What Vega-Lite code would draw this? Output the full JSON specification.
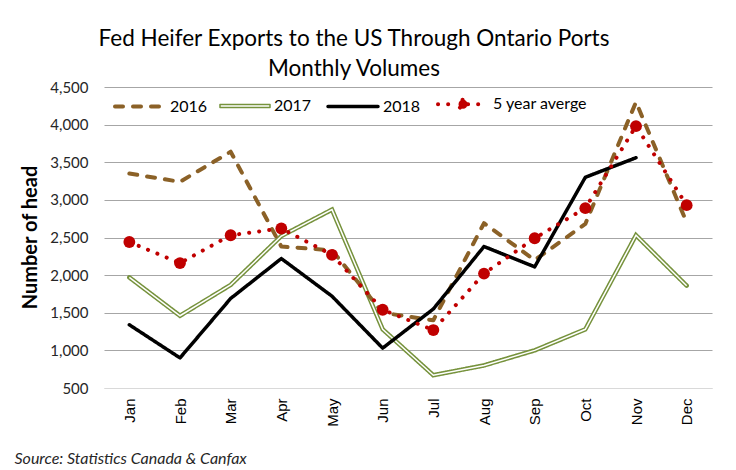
{
  "$schema": "https://vega.github.io/schema/vega-lite/v6.json",
  "width": 608,
  "height": 301,
  "autosize": "none",
  "padding": {"left": 104, "top": 87, "right": 24, "bottom": 82},
  "background": "white",
  "config": {"view": {"stroke": null}, "font": "Lato"},
  "title": {
    "text": ["Fed Heifer Exports to the US Through Ontario Ports", "Monthly Volumes"],
    "font": "Lato",
    "fontSize": 22.5,
    "fontWeight": "normal",
    "color": "#000000",
    "anchor": "middle",
    "frame": "group",
    "dx": -54,
    "lineHeight": 30,
    "offset": -3
  },
  "data": {
    "values": [
      {"month": "Jan", "series": "2016", "value": 3350},
      {"month": "Feb", "series": "2016", "value": 3240},
      {"month": "Mar", "series": "2016", "value": 3640},
      {"month": "Apr", "series": "2016", "value": 2380},
      {"month": "May", "series": "2016", "value": 2330},
      {"month": "Jun", "series": "2016", "value": 1500},
      {"month": "Jul", "series": "2016", "value": 1400},
      {"month": "Aug", "series": "2016", "value": 2690},
      {"month": "Sep", "series": "2016", "value": 2200},
      {"month": "Oct", "series": "2016", "value": 2680},
      {"month": "Nov", "series": "2016", "value": 4300},
      {"month": "Dec", "series": "2016", "value": 2700},
      {"month": "Jan", "series": "2017", "value": 1970},
      {"month": "Feb", "series": "2017", "value": 1460},
      {"month": "Mar", "series": "2017", "value": 1870},
      {"month": "Apr", "series": "2017", "value": 2520},
      {"month": "May", "series": "2017", "value": 2870},
      {"month": "Jun", "series": "2017", "value": 1280},
      {"month": "Jul", "series": "2017", "value": 670},
      {"month": "Aug", "series": "2017", "value": 800},
      {"month": "Sep", "series": "2017", "value": 1000},
      {"month": "Oct", "series": "2017", "value": 1280},
      {"month": "Nov", "series": "2017", "value": 2530},
      {"month": "Dec", "series": "2017", "value": 1860},
      {"month": "Jan", "series": "2018", "value": 1340},
      {"month": "Feb", "series": "2018", "value": 900},
      {"month": "Mar", "series": "2018", "value": 1690},
      {"month": "Apr", "series": "2018", "value": 2220},
      {"month": "May", "series": "2018", "value": 1720},
      {"month": "Jun", "series": "2018", "value": 1030},
      {"month": "Jul", "series": "2018", "value": 1550},
      {"month": "Aug", "series": "2018", "value": 2380},
      {"month": "Sep", "series": "2018", "value": 2110},
      {"month": "Oct", "series": "2018", "value": 3300},
      {"month": "Nov", "series": "2018", "value": 3560},
      {"month": "Jan", "series": "5 year averge", "value": 2440},
      {"month": "Feb", "series": "5 year averge", "value": 2160},
      {"month": "Mar", "series": "5 year averge", "value": 2530},
      {"month": "Apr", "series": "5 year averge", "value": 2620},
      {"month": "May", "series": "5 year averge", "value": 2270},
      {"month": "Jun", "series": "5 year averge", "value": 1540},
      {"month": "Jul", "series": "5 year averge", "value": 1270},
      {"month": "Aug", "series": "5 year averge", "value": 2020},
      {"month": "Sep", "series": "5 year averge", "value": 2490},
      {"month": "Oct", "series": "5 year averge", "value": 2890},
      {"month": "Nov", "series": "5 year averge", "value": 3980},
      {"month": "Dec", "series": "5 year averge", "value": 2930}
    ]
  },
  "encoding": {
    "x": {
      "field": "month",
      "type": "ordinal",
      "sort": ["Jan", "Feb", "Mar", "Apr", "May", "Jun", "Jul", "Aug", "Sep", "Oct", "Nov", "Dec"],
      "scale": {"type": "point", "padding": 0.5},
      "axis": {
        "labelAngle": -90,
        "labelAlign": "right",
        "labelBaseline": "middle",
        "labelFont": "Liberation Sans",
        "labelFontSize": 15,
        "labelColor": "#000000",
        "labelPadding": 10,
        "ticks": false,
        "domain": true,
        "domainColor": "#d9d9d9",
        "domainWidth": 1,
        "grid": false,
        "title": "Source: Statistics Canada & Canfax",
        "titleFont": "Lato",
        "titleFontStyle": "italic",
        "titleFontWeight": "normal",
        "titleFontSize": 16,
        "titleColor": "#262626",
        "titleAnchor": "start",
        "titleAlign": "left",
        "titleBaseline": "alphabetic",
        "titleX": -90,
        "titleY": 75
      }
    },
    "y": {
      "field": "value",
      "type": "quantitative",
      "scale": {"domain": [500, 4500], "nice": false, "zero": false},
      "axis": {
        "values": [500, 1000, 1500, 2000, 2500, 3000, 3500, 4000, 4500],
        "format": ",.0f",
        "labelFont": "Lato",
        "labelFontSize": 15,
        "labelColor": "#262626",
        "labelPadding": 16,
        "ticks": false,
        "domain": false,
        "gridColor": {"condition": {"test": "datum.value == 500", "value": "#d9d9d9"}, "value": "#a6a6a6"},
        "gridWidth": 1.2,
        "title": "Number of head",
        "titleFont": "Lato",
        "titleFontSize": 20,
        "titleFontWeight": "bold",
        "titleColor": "#000000",
        "titleX": -74,
        "titleY": 150,
        "titleAlign": "center",
        "titleBaseline": "middle",
        "titleAngle": -90
      }
    }
  },
  "layer": [
    {
      "transform": [{"filter": "datum.series == '2017'"}],
      "mark": {"type": "line", "strokeCap": "round", "strokeJoin": "miter", "strokeWidth": 4.5},
      "encoding": {
        "color": {"field": "series", "type": "nominal", "scale": {"domain": ["2016", "2017", "2018", "5 year averge"], "range": ["#8B6127", "#76923C", "#000000", "#C00000"]}, "title": null,
          "legend": {
            "orient": "none",
            "direction": "horizontal",
            "legendX": 9,
            "legendY": -10,
            "symbolType": "stroke",
            "symbolSize": 2500,
            "labelFont": "Lato",
            "labelFontSize": 16,
            "labelColor": "#000000",
            "labelOffset": 3,
            "columnPadding": 9,
            "encode": {
              "symbols": {
                "update": {
                  "shape": {"signal": "datum.value === '2017' ? 'M-1,-0.06H1V0.06H-1Z' : (datum.value === '5 year averge' ? 'M-1,0H-0.2M0.2,0H1M0.18,0A0.18,0.18,0,1,1,-0.18,0A0.18,0.18,0,1,1,0.18,0Z' : 'stroke')"},
                  "fill": {"signal": "datum.value === '5 year averge' ? '#C00000' : (datum.value === '2017' ? '#ffffff' : 'transparent')"},
                  "strokeCap": {"value": "round"}
                }
              }
            }
          }
        },
        "strokeDash": {"field": "series", "type": "nominal", "scale": {"domain": ["2016", "2017", "2018", "5 year averge"], "range": [[8, 10], [1, 0], [1, 0], [0.1, 10]]}, "title": null}
      }
    },
    {
      "transform": [{"filter": "datum.series == '2017'"}],
      "mark": {"type": "line", "color": "#ffffff", "strokeWidth": 1.5, "strokeJoin": "miter"},
      "encoding": {}
    },
    {
      "transform": [{"filter": "datum.series != '2017'"}],
      "mark": {"type": "line", "strokeCap": "round", "strokeJoin": "round"},
      "encoding": {
        "color": {"field": "series", "type": "nominal", "title": null},
        "strokeDash": {"field": "series", "type": "nominal", "title": null},
        "strokeWidth": {"field": "series", "type": "nominal", "scale": {"type": "ordinal", "domain": ["2016", "2017", "2018", "5 year averge"], "range": [4, 1.5, 3.5, 4]}, "title": null}
      }
    },
    {
      "transform": [{"filter": "datum.series == '5 year averge'"}],
      "mark": {"type": "point", "filled": true, "color": "#C00000", "size": 140, "opacity": 1},
      "encoding": {}
    }
  ]
}
